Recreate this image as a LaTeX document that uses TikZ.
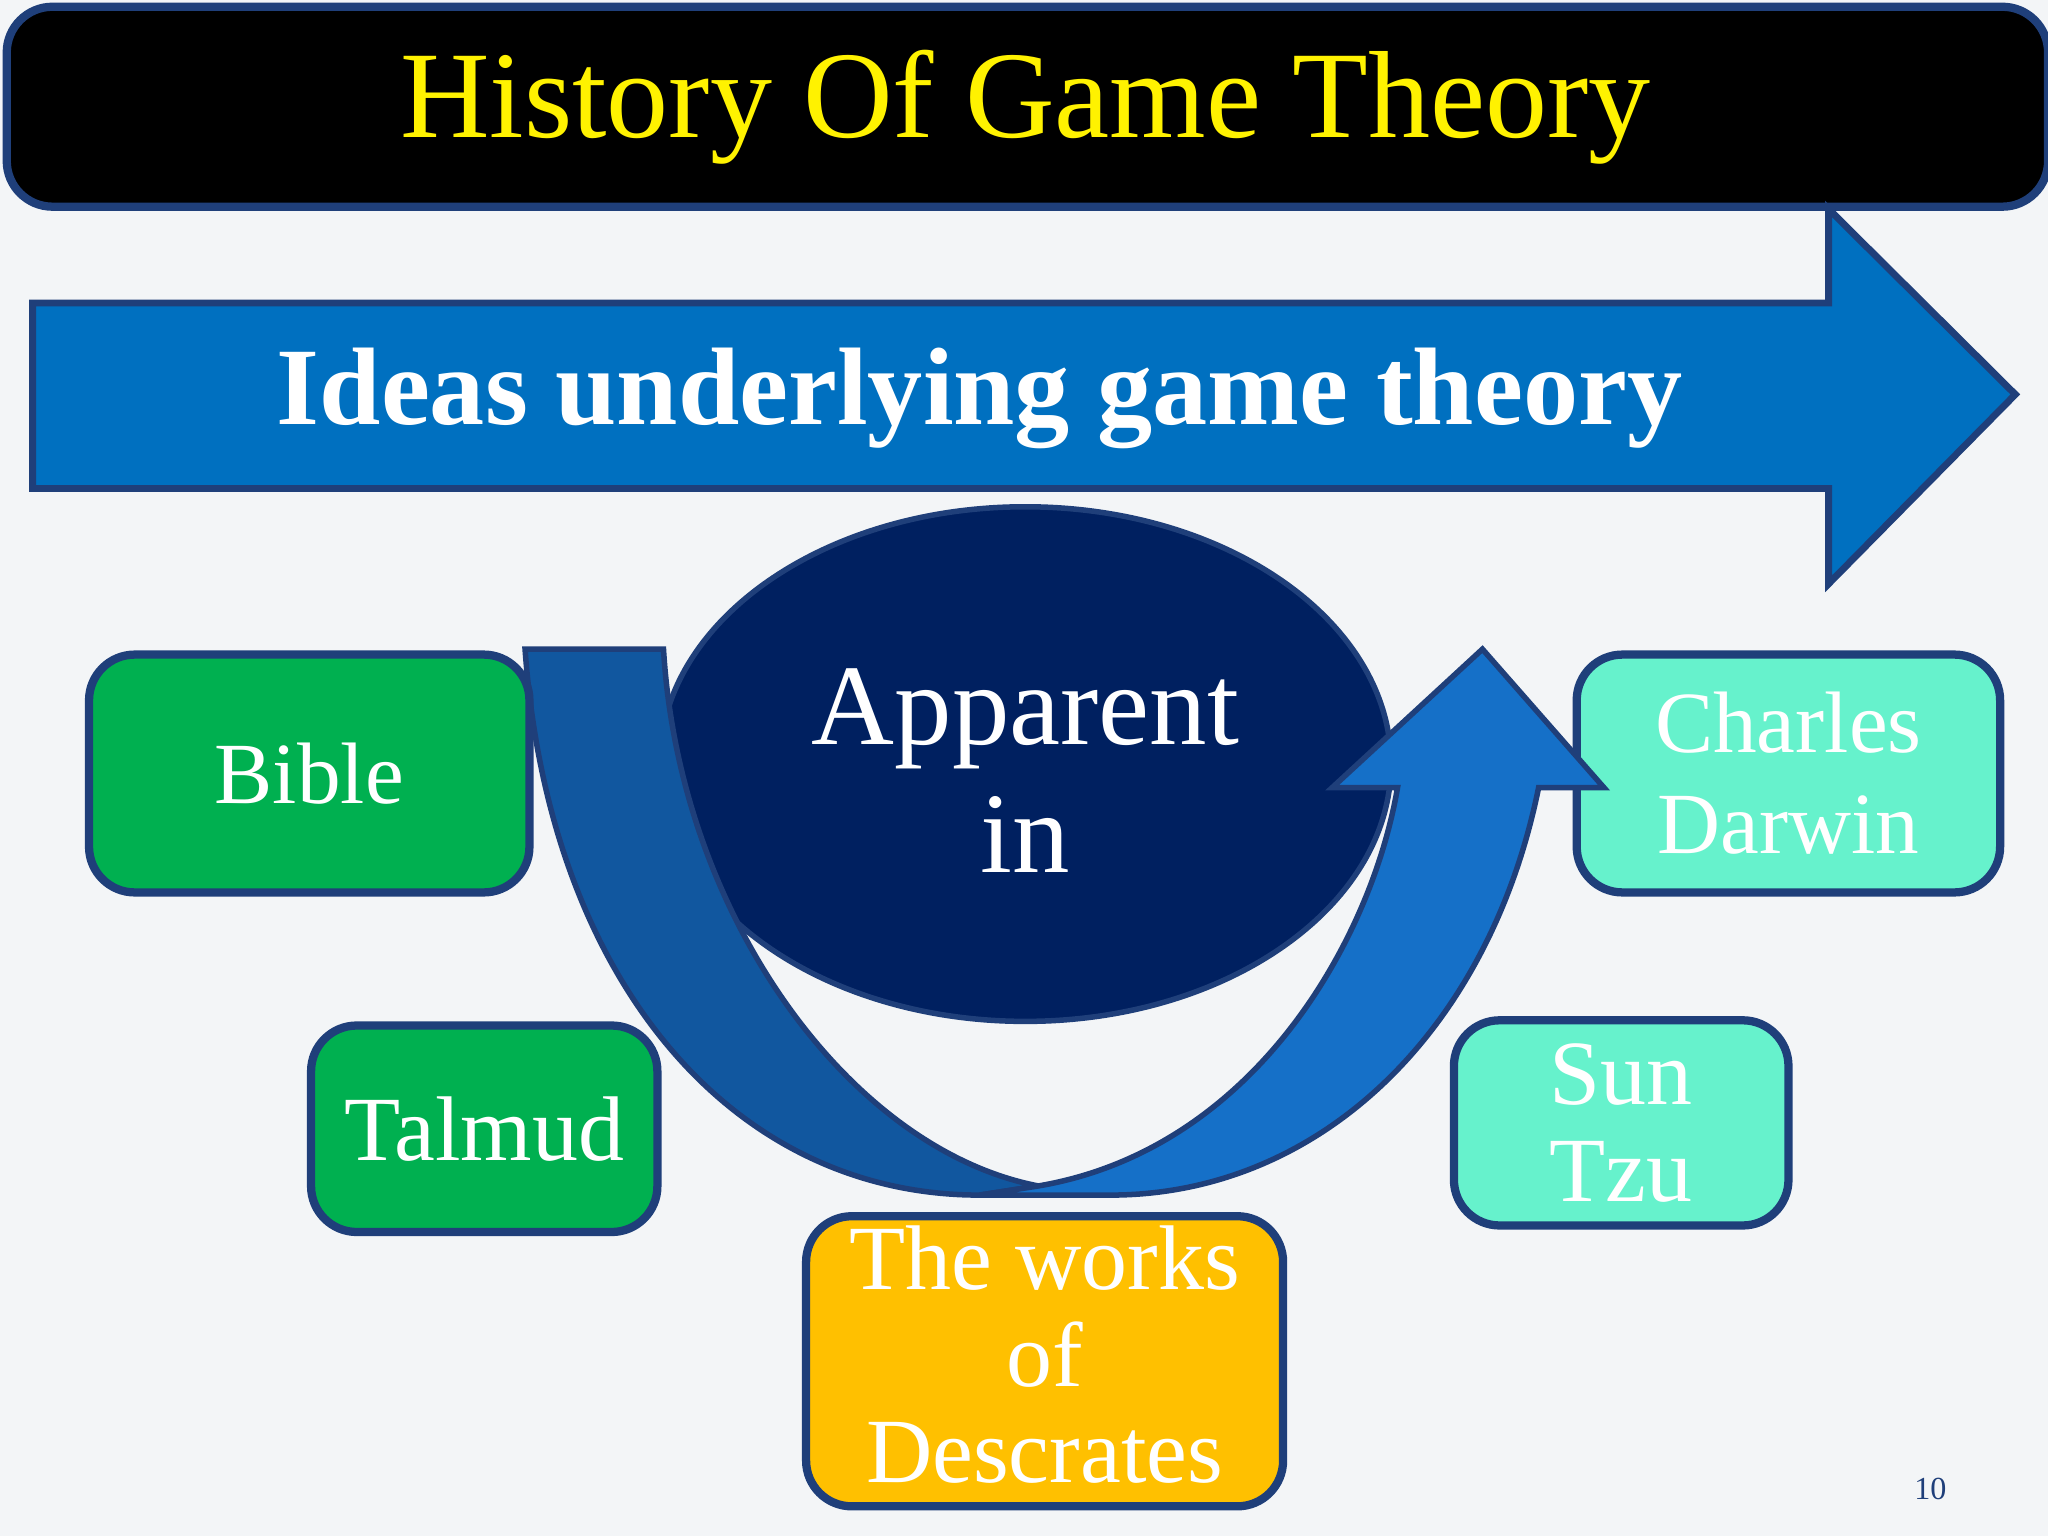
\documentclass[tikz,border=0pt]{standalone}
\usepackage{fontspec}
\setmainfont{Liberation Serif}
\begin{document}
\begin{tikzpicture}[x=0.01cm,y=-0.01cm,
  box/.style={draw=bord,line width=1.8pt,rounded corners=0.35cm},
  boxtxt/.style={font=\fontsize{19}{22}\selectfont,align=center,text=white}]
\definecolor{bg}{HTML}{F3F5F7}
\definecolor{bord}{HTML}{1F3F7A}
\definecolor{arrowblue}{HTML}{0070C0}
\definecolor{navy}{HTML}{002060}
\definecolor{bandL}{HTML}{11579F}
\definecolor{bandR}{HTML}{1570C8}
\definecolor{grn}{HTML}{00B050}
\definecolor{aqua}{HTML}{66F2CC}
\definecolor{gold}{HTML}{FFC000}
\useasboundingbox (0,0) rectangle (1568,1176);
\fill[bg] (0,0) rectangle (1568,1176);
% title
\node[box,fill=black,minimum width=15.62cm,minimum height=1.53cm,anchor=north west] (title) at (2,2) {};
\node[text=yellow,font=\fontsize{27}{32}\selectfont] (titletxt) at (785,82) {History Of Game Theory};
% big arrow
\draw[fill=arrowblue,draw=bord,line width=1.5pt] (25,232) -- (1400,232) -- (1400,160) -- (1543,302) -- (1400,447) -- (1400,374) -- (25,374) -- cycle;
\node[text=white,font=\bfseries\fontsize{24}{28}\selectfont] (ideas) at (750,305) {Ideas underlying game theory};
% ellipse
\draw[fill=navy,draw=bord,line width=1.2pt] (785,585) ellipse [x radius=280,y radius=197];
\node[text=white,font=\fontsize{25}{28}\selectfont,align=center] (app) at (785,590) {Apparent\\in};
% boxes behind curved arrow
\node[box,fill=aqua,minimum width=3.24cm,minimum height=1.82cm,anchor=north west] (darwin) at (1204,498) {};
\node[boxtxt] at (darwin.center) {Charles\\Darwin};
% curved arrow
\draw[fill=bandL,draw=bord,line width=1.2pt] (402,497) -- (508,497) .. controls (520,700) and (650,880) .. (795,908) -- (750,915) .. controls (560,915) and (420,750) .. cycle;
\draw[fill=bandR,draw=bord,line width=1.2pt] (795,908) .. controls (960,880) and (1050,720) .. (1070,603) -- (1020,603) -- (1135,497) -- (1228,603) -- (1178,603) .. controls (1140,790) and (1010,915) .. (850,915) -- (750,915) -- cycle;
% other boxes
\node[box,fill=grn,minimum width=3.37cm,minimum height=1.82cm,anchor=north west] (bible) at (65,498) {};
\node[boxtxt] at (bible.center) {Bible};
\node[box,fill=grn,minimum width=2.65cm,minimum height=1.58cm,anchor=north west] (talmud) at (235,782) {};
\node[boxtxt,font=\fontsize{20}{24}\selectfont] at (talmud.center) {Talmud};
\node[box,fill=gold,minimum width=3.65cm,minimum height=2.22cm,anchor=north west] (desc) at (614,928) {};
\node[boxtxt,font=\fontsize{20}{21}\selectfont] at ([yshift=0.05cm]desc.center) {The works\\of\\Descrates};
\node[box,fill=aqua,minimum width=2.56cm,minimum height=1.57cm,anchor=north west] (suntzu) at (1110,778) {};
\node[boxtxt,font=\fontsize{20}{21}\selectfont] at (suntzu.center) {Sun\\Tzu};
\node[text=bord,font=\fontsize{7}{8}\selectfont] (pg) at (1478,1140) {10};
\end{tikzpicture}
\end{document}
